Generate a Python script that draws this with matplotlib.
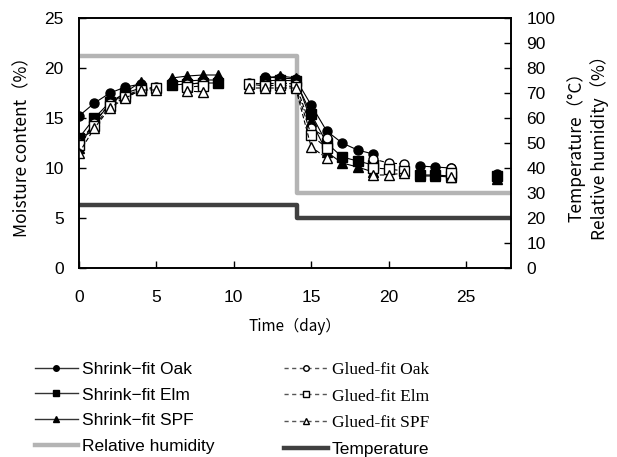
import numpy as np
import matplotlib
matplotlib.use("Agg")
import matplotlib.pyplot as plt
from matplotlib.lines import Line2D

nan = np.nan
days = np.arange(0, 28)

# moisture content (%), NaN = no measurement that day
shrink_oak = [15.2, 16.5, 17.5, 18.1, 18.4, nan, 18.6, 18.7, 18.8, 18.8, nan, nan, 19.1, 19.0,
              18.9, 16.3, 13.7, 12.5, 11.8, 11.4, nan, nan, 10.2, 10.1, 10.0, nan, nan, 9.4]
shrink_elm = [13.0, 15.0, 16.6, 17.5, 18.0, nan, 18.3, 18.4, 18.5, 18.5, nan, nan, 18.7, 18.8,
              18.7, 15.4, 12.5, 11.1, 10.7, 10.3, nan, nan, 9.3, 9.3, 9.2, nan, nan, 9.2]
shrink_spf = [12.0, 14.7, 16.3, 17.6, 18.6, nan, 19.0, 19.2, 19.3, 19.3, nan, nan, 19.0, 19.2,
              19.0, 14.7, 11.6, 10.5, 10.1, 9.6, nan, nan, 9.2, 9.2, 9.1, nan, nan, 8.9]
glued_oak = [12.5, 14.5, 16.5, 17.2, 17.9, 18.1, nan, 18.4, 18.5, nan, nan, 18.5, 18.4, 18.5,
             18.4, 14.0, 13.0, nan, nan, 10.9, 10.5, 10.4, nan, nan, 10.0, nan, nan, nan]
glued_elm = [12.3, 14.2, 16.2, 17.1, 17.8, 18.0, nan, 18.1, 18.2, nan, nan, 18.4, 18.2, 18.3,
             18.1, 13.3, 12.0, nan, nan, 10.0, 9.9, 9.7, nan, nan, 9.5, nan, nan, nan]
glued_spf = [11.5, 14.0, 16.0, 17.0, 17.8, 17.8, nan, 17.7, 17.6, nan, nan, 18.0, 18.0, 18.0,
             18.0, 12.1, 11.0, nan, nan, 9.3, 9.3, 9.5, nan, nan, 9.1, nan, nan, nan]

# climate schedule (step changes)
env_time = [0, 14.1, 28]
rh_values = [85, 30, 30]
temp_values = [25, 20, 20]

sans = "Liberation Sans"
jp = ["Noto Sans CJK JP", "DejaVu Sans"]

fig = plt.figure(figsize=(6.17, 4.57), dpi=100)
ax = fig.add_axes([0.128, 0.4136, 0.700, 0.547])
ax2 = ax.twinx()

ax.set_zorder(ax2.get_zorder() + 1)
ax.patch.set_visible(False)

ax2.plot(env_time, rh_values, drawstyle="steps-post", color="#b4b4b4", lw=3.2)
ax2.plot(env_time, temp_values, drawstyle="steps-post", color="#404040", lw=3.2)

ms = 6.5
s_style = dict(color="black", lw=0.8, ms=ms, mfc="black", mec="black")
g_style = dict(color="black", lw=0.8, ls=(0, (4, 2)), ms=ms, mfc="white", mec="black")
ax.plot(days, shrink_oak, marker="o", **s_style)
ax.plot(days, shrink_elm, marker="s", **s_style)
ax.plot(days, shrink_spf, marker="^", **s_style)
ax.plot(days, glued_oak, marker="o", **g_style)
ax.plot(days, glued_elm, marker="s", **g_style)
ax.plot(days, glued_spf, marker="^", **g_style)

ax.set_xlim(0, 27.9)
ax.set_ylim(0, 25)
ax2.set_ylim(0, 100)
ax.set_xticks([0, 5, 10, 15, 20, 25])
ax.set_yticks(np.arange(0, 26, 5))
ax2.set_yticks(np.arange(0, 101, 10))

for a in (ax, ax2):
    a.tick_params(direction="in", length=5, width=1, labelsize=12.5, pad=11)
    a.tick_params(axis="x", pad=16)
    for lab in a.get_xticklabels() + a.get_yticklabels():
        lab.set_family(sans)
    for sp in a.spines.values():
        sp.set_linewidth(1.2)

ax.set_xlabel("Time（day）", family=jp, fontsize=11, labelpad=9)
ax.set_ylabel("Moisture content（%）", family=jp, fontsize=12.5, labelpad=9)
ax2.set_ylabel("Temperature（°C）\nRelative humidity（%）", family=jp, fontsize=12.5,
               labelpad=8, linespacing=1.35)

# legend: small markers, two columns
def proxy(marker, filled, dashed):
    return Line2D([], [], color="#555555" if dashed else "#333333", lw=1.0,
                  ls=(0, (3, 2.5)) if dashed else "-", marker=marker, ms=4,
                  mfc="black" if filled else "white", mec="black")

handles = [proxy("o", True, False), proxy("s", True, False), proxy("^", True, False),
           Line2D([], [], color="#b4b4b4", lw=3.2),
           proxy("o", False, True), proxy("s", False, True), proxy("^", False, True),
           Line2D([], [], color="#404040", lw=3.2)]
labels = ["Shrink−fit Oak", "Shrink−fit Elm", "Shrink−fit SPF", "Relative humidity",
          "Glued-fit Oak", "Glued-fit Elm", "Glued-fit SPF", "Temperature"]
leg = fig.legend(handles, labels, ncol=2, loc="upper left", bbox_to_anchor=(0.042, 0.228),
                 frameon=False, fontsize=12.5, handlelength=2.5, handletextpad=0.25,
                 labelspacing=0.62, columnspacing=4.0, borderpad=0)
for i, txt in enumerate(leg.get_texts()):
    txt.set_family("Liberation Serif" if i in (4, 5, 6) else sans)

fig.savefig("out.png", dpi=100)
